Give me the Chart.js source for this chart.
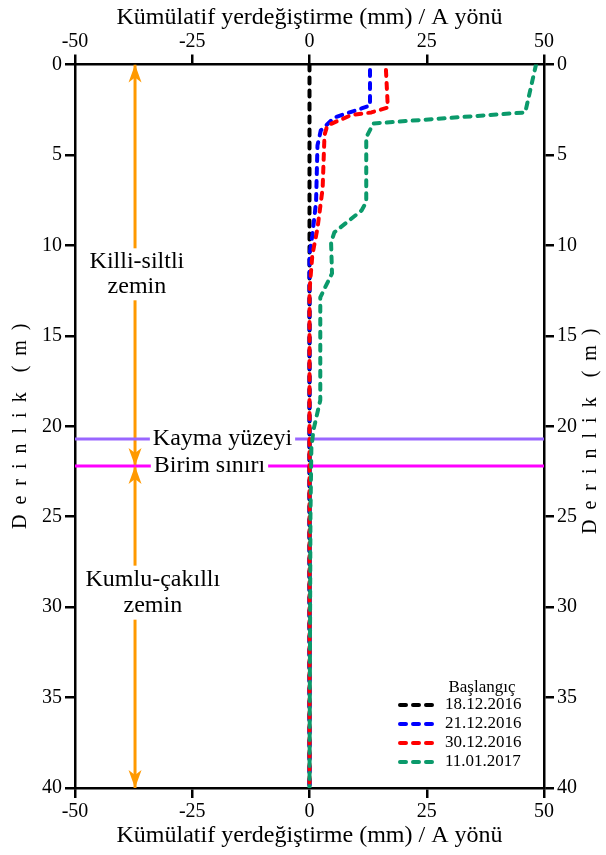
<!DOCTYPE html>
<html>
<head>
<meta charset="utf-8">
<script src="https://cdn.jsdelivr.net/npm/chart.js@4.4.1/dist/chart.umd.min.js"></script>
<style>
    html, body { margin: 0; padding: 0; background: #fff; }
    canvas { display: block; }
</style>
</head>
<body>
<canvas id="chart" width="606" height="855"></canvas>
<script>
// axis ticks
const dispTicks = [-50, -25, 0, 25, 50];
const depthTicks = [0, 5, 10, 15, 20, 25, 30, 35, 40];

// inclinometer readings: depth (m) and cumulative displacement (mm)
const dates = ['18.12.2016', '21.12.2016', '30.12.2016', '11.01.2017'];

const depth1 = [0, 40];
const disp1 = [0, 0];

const depth2 = [0.3, 2.27, 2.43, 2.93, 3.65, 4.48, 7.6, 9.45, 10.5, 40];
const disp2 = [12.9, 12.9, 11.1, 5.3, 2.4, 1.7, 1.4, 0.6, 0, 0];

const depth3 = [0.3, 2.38, 2.65, 2.8, 3.37, 3.9, 6.85, 9.06, 10.55, 12.5, 40];
const disp3 = [16.3, 16.7, 13.2, 8.9, 3.8, 3.2, 2.8, 1.7, 0.6, 0, 0];

const depth4 = [0, 2.65, 3.26, 4.03, 7.6, 8.07, 9.28, 9.83, 11.55, 12.87, 18.56, 20.2, 21.2, 25, 40];
const disp4 = [48.3, 46, 13.6, 12.1, 12.1, 11.1, 5.3, 4.6, 4.8, 2.3, 2.3, 0.85, 0.4, 0.2, 0];

// geology
const slipDepth = 20.7;
const boundaryDepth = 22.2;
const arrowX = -37.2;

const FONT = '"Liberation Serif", "Times New Roman", serif';
const AXIS_TITLE = 'Kümülatif yerdeğiştirme (mm) / A yönü';
const DEPTH_TITLE = 'D  e  r  i  n  l  i  k    (  m  )';

Chart.defaults.font.family = FONT;
Chart.defaults.color = '#000';

const toPoints = (xs, ys) => xs.map((x, i) => ({ x, y: ys[i] }));

const curve = (label, xs, ys, color, order) => ({
    label,
    data: toPoints(xs, ys),
    borderColor: color,
    backgroundColor: color,
    borderWidth: 4,
    borderDash: [6, 7],
    borderCapStyle: 'round',
    borderJoinStyle: 'round',
    pointRadius: 0,
    showLine: true,
    order,
    isCurve: true,
});

const straight = (points, color, width, order) => ({
    data: points,
    borderColor: color,
    borderWidth: width,
    pointRadius: 0,
    showLine: true,
    order,
});

const datasets = [
    curve(dates[0], disp1, depth1, '#000000', 4),
    curve(dates[1], disp2, depth2, '#0000ff', 3),
    curve(dates[2], disp3, depth3, '#ff0000', 2),
    curve(dates[3], disp4, depth4, '#0b9a6b', 1),
    straight([{ x: -50, y: slipDepth }, { x: 50, y: slipDepth }], '#9966ff', 3, 6),
    straight([{ x: -50, y: boundaryDepth }, { x: 50, y: boundaryDepth }], '#ff00ff', 3, 6),
    straight([{ x: arrowX, y: 0 }, { x: arrowX, y: boundaryDepth }], '#ff9900', 3, 7),
    straight([{ x: arrowX, y: boundaryDepth }, { x: arrowX, y: 40 }], '#ff9900', 3, 7),
];

function arrowHead(ctx, px, py, dir) {
    ctx.beginPath();
    ctx.moveTo(px, py);
    ctx.lineTo(px - 6.5, py - dir * 18);
    ctx.lineTo(px, py - dir * 13);
    ctx.lineTo(px + 6.5, py - dir * 18);
    ctx.closePath();
    ctx.fill();
}

function boxedText(ctx, lines, cx, cy, align, lineGap) {
    const widths = lines.map((t) => ctx.measureText(t).width);
    const w = Math.max(...widths);
    const h = lineGap * lines.length;
    const left = align === 'left' ? cx : cx - w / 2;
    ctx.fillStyle = '#fff';
    ctx.fillRect(left - 3, cy - h / 2 - 1, w + 6, h + 2);
    ctx.fillStyle = '#000';
    ctx.textAlign = align;
    ctx.textBaseline = 'middle';
    lines.forEach((t, i) => {
        ctx.fillText(t, cx, cy - h / 2 + lineGap * (i + 0.5));
    });
}

const notesPlugin = {
    id: 'notes',
    afterDatasetsDraw(chart) {
        const { ctx, chartArea, scales: { x, y } } = chart;
        ctx.save();

        // arrow heads
        ctx.fillStyle = '#ff9900';
        const ax = x.getPixelForValue(arrowX);
        arrowHead(ctx, ax, y.getPixelForValue(0), -1);
        arrowHead(ctx, ax, y.getPixelForValue(boundaryDepth), 1);
        arrowHead(ctx, ax, y.getPixelForValue(boundaryDepth), -1);
        arrowHead(ctx, ax, y.getPixelForValue(40), 1);

        // soil / surface labels
        ctx.font = `24px ${FONT}`;
        boxedText(ctx, ['Killi-siltli', 'zemin'], x.getPixelForValue(-36.8), y.getPixelForValue(11.6), 'center', 25);
        boxedText(ctx, ['Kumlu-çakıllı', 'zemin'], x.getPixelForValue(-33.4), y.getPixelForValue(29.2), 'center', 26);
        boxedText(ctx, ['Kayma yüzeyi'], x.getPixelForValue(-33.4), y.getPixelForValue(slipDepth), 'left', 21);
        boxedText(ctx, ['Birim sınırı'], x.getPixelForValue(-33.2), y.getPixelForValue(boundaryDepth), 'left', 21);

        // legend
        const right = chartArea.right;
        const bottom = chartArea.bottom;
        ctx.font = `17px ${FONT}`;
        ctx.fillStyle = '#000';
        ctx.textAlign = 'center';
        ctx.textBaseline = 'middle';
        ctx.fillText('Başlangıç', right - 62, bottom - 100);
        const rows = [83, 64, 45, 26];
        chart.data.datasets.filter((d) => d.isCurve).forEach((d, i) => {
            const ry = bottom - rows[i];
            ctx.strokeStyle = d.borderColor;
            ctx.lineWidth = d.borderWidth;
            ctx.lineCap = 'round';
            ctx.setLineDash(d.borderDash);
            ctx.beginPath();
            ctx.moveTo(right - 144, ry);
            ctx.lineTo(right - 112, ry);
            ctx.stroke();
            ctx.setLineDash([]);
            ctx.fillStyle = '#000';
            ctx.textAlign = 'left';
            ctx.fillText(d.label, right - 99, ry);
        });

        ctx.restore();
    },
    afterDraw(chart) {
        // right-hand depth title reads upward like the left one
        const { ctx, scales: { y } } = chart;
        ctx.save();
        ctx.font = `20px ${FONT}`;
        ctx.fillStyle = '#000';
        ctx.textAlign = 'center';
        ctx.textBaseline = 'middle';
        ctx.translate(chart.width - 15, (y.top + y.bottom) / 2 + 5);
        ctx.rotate(-Math.PI / 2);
        ctx.fillText(DEPTH_TITLE, 0, 0);
        ctx.restore();
    },
};

const axisStyle = {
    border: { color: '#000', width: 2.5 },
    grid: { drawOnChartArea: false, tickLength: 10, color: '#000', lineWidth: 2.5 },
};

const xAxis = (position, height, pad, titlePad) => ({
    type: 'linear',
    position,
    min: -50,
    max: 50,
    afterBuildTicks: (s) => { s.ticks = dispTicks.map((value) => ({ value })); },
    afterFit: (s) => { s.height = height; },
    ticks: { font: { size: 20 }, padding: pad, maxRotation: 0 },
    title: { display: true, text: AXIS_TITLE, font: { size: 24 }, padding: titlePad },
    ...axisStyle,
});

const yAxis = (position, width, showTitle) => ({
    type: 'linear',
    position,
    reverse: true,
    min: 0,
    max: 40,
    afterBuildTicks: (s) => { s.ticks = depthTicks.map((value) => ({ value })); },
    afterFit: (s) => { s.width = width; },
    ticks: { font: { size: 20 }, padding: 3 },
    title: { display: showTitle, text: DEPTH_TITLE, font: { size: 20 }, padding: { top: 9 } },
    ...axisStyle,
});

new Chart(document.getElementById('chart'), {
    type: 'scatter',
    data: { datasets },
    options: {
        responsive: false,
        animation: false,
        devicePixelRatio: 1,
        layout: { padding: 0 },
        plugins: {
            legend: { display: false },
            tooltip: { enabled: false },
        },
        scales: {
            x: xAxis('bottom', 67, 2, { bottom: 5 }),
            x2: xAxis('top', 64.5, 1, { top: 3 }),
            y: yAxis('left', 75, true),
            y2: yAxis('right', 62, false),
        },
    },
    plugins: [notesPlugin],
});
</script>
</body>
</html>
